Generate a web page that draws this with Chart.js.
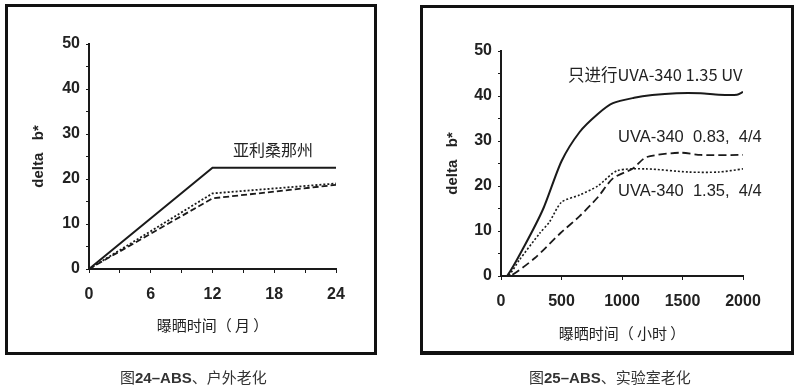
<!DOCTYPE html>
<html>
<head>
<meta charset="utf-8">
<script src="https://cdn.jsdelivr.net/npm/chart.js@4.4.1/dist/chart.umd.min.js"></script>
<style>
  body { margin: 0; background: #fff; width: 800px; height: 389px; overflow: hidden; position: relative; }
  .wrap { position: absolute; top: 0; width: 400px; height: 360px; }
  .frame { position: absolute; border: 3px solid #111; box-sizing: border-box; pointer-events: none; }
  .cap { position: absolute; top: 366px; font: 15px "Noto Sans CJK SC", sans-serif; color: #333; white-space: nowrap; }
  .cap b { font-family: "Liberation Sans", Arial, sans-serif; }
</style>
</head>
<body>
<div class="wrap" style="left:0"><canvas id="c1"></canvas></div>
<div class="wrap" style="left:400px"><canvas id="c2"></canvas></div>
<div class="frame" style="left:5px;top:4px;width:372px;height:351px"></div>
<div class="frame" style="left:420px;top:5px;width:374px;height:350px;border-bottom-width:4px"></div>
<div class="cap" style="left:120px">图<b>24–ABS</b>、户外老化</div>
<div class="cap" style="left:529px">图<b>25–ABS</b>、实验室老化</div>
<script>
// 图24 户外老化 (月)
var outMonths = [0, 12, 24];
var outSolid = [0, 22.5, 22.5];
var outDotted = [0, 16.8, 19.0];
var outDashed = [0, 15.7, 18.7];

// 图25 实验室老化 (小时)
var labSolidX = [0, 50, 200, 350, 500, 650, 800, 925, 1100, 1250, 1450, 1650, 1800, 1950, 2000];
var labSolidY = [0, 0, 7, 15, 25.5, 32, 36, 38.4, 39.6, 40.2, 40.6, 40.6, 40.3, 40.3, 40.9];
var labDashX = [0, 75, 280, 490, 650, 800, 925, 1090, 1200, 1480, 1650, 2000];
var labDashY = [0, 0, 4, 9.5, 13.3, 17.5, 21.7, 23.9, 26.4, 27.4, 26.9, 26.9];
var labDotX = [0, 60, 150, 320, 400, 500, 650, 800, 960, 1200, 1550, 1800, 2000];
var labDotY = [0, 0, 3.5, 9.5, 12, 16.4, 18, 20, 23.4, 23.8, 23.1, 23.1, 23.8];

var ink = '#1a1a1a';

function pts(xs, ys) {
  return xs.map(function(x, i) { return {x: x, y: ys[i]}; });
}

// text notes placed at data coordinates
var notesPlugin = {
  id: 'notes',
  afterDatasetsDraw: function(chart, args, opts) {
    var ctx = chart.ctx;
    ctx.save();
    ctx.fillStyle = '#222';
    ctx.textBaseline = 'middle';
    ctx.textAlign = 'left';
    (opts.items || []).forEach(function(n) {
      ctx.font = n.font;
      ctx.fillText(n.text, chart.scales.x.getPixelForValue(n.x), chart.scales.y.getPixelForValue(n.y));
    });
    ctx.restore();
  }
};

function makeChart(id, cfg) {
  var tickFont = {family: 'Liberation Sans', size: 16, weight: 'bold'};
  return new Chart(document.getElementById(id), {
    type: 'line',
    data: {datasets: cfg.datasets},
    plugins: [notesPlugin],
    options: {
      responsive: false,
      animation: false,
      layout: {padding: {top: cfg.padTop, right: cfg.padRight, left: 0, bottom: 0}},
      plugins: {
        legend: {display: false},
        tooltip: {enabled: false},
        notes: {items: cfg.notes}
      },
      elements: {point: {radius: 0}, line: {tension: 0.25, borderColor: ink, fill: false}},
      scales: {
        x: {
          type: 'linear', min: 0, max: cfg.xMax,
          afterFit: function(s) { s.height = cfg.xHeight; },
          border: {color: ink, width: 2},
          grid: {drawOnChartArea: false, tickLength: 4, color: ink},
          ticks: {
            stepSize: cfg.xStep, padding: 12, color: '#222', font: tickFont, maxRotation: 0,
            callback: function(v) { return v % cfg.xLabelStep === 0 ? v : ''; }
          },
          title: {display: true, text: cfg.xTitle, color: '#222',
            font: {family: 'Noto Sans CJK SC', size: 15}, padding: {top: 0, bottom: cfg.xTitlePad}}
        },
        y: {
          min: 0, max: 50,
          afterFit: function(s) { s.width = cfg.yWidth; },
          border: {color: ink, width: 2},
          grid: {drawOnChartArea: false, tickLength: 3, color: ink},
          ticks: {
            stepSize: 5, padding: 6, color: '#222', font: tickFont,
            callback: function(v) { return v % 10 === 0 ? v : ''; }
          },
          title: {display: true, text: 'delta   b*', color: '#222',
            font: {family: 'Liberation Sans', size: 15, weight: 'bold'}, padding: {top: cfg.yTitlePad, bottom: 0}}
        }
      }
    }
  });
}

var c1 = document.getElementById('c1'); c1.width = 400; c1.height = 360;
var c2 = document.getElementById('c2'); c2.width = 400; c2.height = 360;

makeChart('c1', {
  xMax: 24, xStep: 3, xLabelStep: 6, xTitle: '曝晒时间（ 月 ）',
  padTop: 44, padRight: 64, xHeight: 91, yWidth: 89, xTitlePad: 26, yTitlePad: 30,
  datasets: [
    {data: pts(outMonths, outSolid), borderWidth: 2, tension: 0},
    {data: pts(outMonths, outDotted), borderWidth: 1.8, borderDash: [2, 2], tension: 0},
    {data: pts(outMonths, outDashed), borderWidth: 1.8, borderDash: [6, 3], tension: 0}
  ],
  notes: [{text: '亚利桑那州', x: 14.0, y: 26.4, font: '16px "Noto Sans CJK SC"'}]
});

makeChart('c2', {
  xMax: 2000, xStep: 250, xLabelStep: 500, xTitle: '曝晒时间（ 小时 ）',
  padTop: 51, padRight: 57, xHeight: 84, yWidth: 101, xTitlePad: 18, yTitlePad: 44,
  datasets: [
    {data: pts(labSolidX, labSolidY), borderWidth: 2},
    {data: pts(labDashX, labDashY), borderWidth: 1.8, borderDash: [8, 4]},
    {data: pts(labDotX, labDotY), borderWidth: 1.6, borderDash: [2, 2]}
  ],
  notes: [
    {text: '只进行UVA-340 1.35 UV', x: 554, y: 44.7, font: '16.5px "Noto Sans CJK SC"'},
    {text: 'UVA-340  0.83,  4/4', x: 967, y: 30.7, font: '16.5px "Liberation Sans"'},
    {text: 'UVA-340  1.35,  4/4', x: 967, y: 18.7, font: '16.5px "Liberation Sans"'}
  ]
});
</script>
</body>
</html>
